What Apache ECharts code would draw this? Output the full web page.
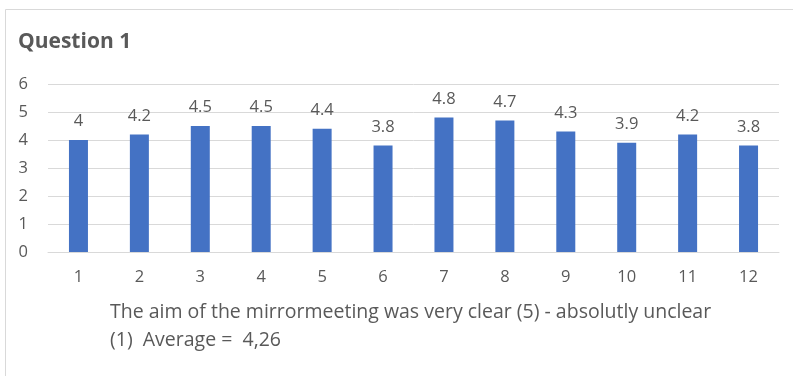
<!DOCTYPE html>
<html>
<head>
<meta charset="utf-8">
<script src="https://cdn.jsdelivr.net/npm/echarts@6/dist/echarts.min.js"></script>
<style>
  html, body { margin: 0; padding: 0; background: #fff; }
  #chart { width: 793px; height: 376px; }
</style>
</head>
<body>
<div id="chart"></div>
<script>
// Survey question: one bar per respondent group
const categories = ['1', '2', '3', '4', '5', '6', '7', '8', '9', '10', '11', '12'];
const scores = [4, 4.2, 4.5, 4.5, 4.4, 3.8, 4.8, 4.7, 4.3, 3.9, 4.2, 3.8];
const yTicks = { min: 0, max: 6, interval: 1 };
const titleText = 'Question 1';
const axisTitleLines = [
  'The aim of the mirrormeeting was very clear (5) - absolutly unclear',
  '(1)  Average =  4,26'
];

const textColor = '#595959';
const fontFamily = '"Open Sans", "Noto Sans", sans-serif';

const chart = echarts.init(document.getElementById('chart'), null, { renderer: 'canvas' });

chart.setOption({
  animation: false,
  backgroundColor: '#ffffff',
  textStyle: { fontFamily: fontFamily },
  title: {
    text: titleText,
    left: 13,
    top: 27,
    textStyle: { color: textColor, fontSize: 21, fontWeight: 'bold', fontFamily: fontFamily }
  },
  graphic: [
    {
      type: 'rect',
      shape: { x: 5.5, y: 9.5, width: 900, height: 500 },
      style: { fill: 'none', stroke: '#d9d9d9', lineWidth: 1 },
      silent: true
    },
    {
      type: 'text',
      left: 110,
      top: 298,
      style: {
        text: axisTitleLines.join('\n'),
        fill: textColor,
        fontSize: 19.5,
        lineHeight: 28,
        fontFamily: fontFamily,
        align: 'left'
      },
      silent: true
    }
  ],
  grid: { left: 48, right: 14, top: 84, bottom: 124, containLabel: false },
  xAxis: {
    type: 'category',
    data: categories,
    axisLine: { show: true, lineStyle: { color: '#d9d9d9', width: 1 } },
    axisTick: { show: false },
    axisLabel: { color: textColor, fontSize: 16.5, margin: 17, fontFamily: fontFamily }
  },
  yAxis: {
    type: 'value',
    min: yTicks.min,
    max: yTicks.max,
    interval: yTicks.interval,
    axisLine: { show: false },
    axisTick: { show: false },
    splitLine: { lineStyle: { color: '#d9d9d9', width: 1 } },
    axisLabel: { color: textColor, fontSize: 16.5, margin: 20, fontFamily: fontFamily }
  },
  series: [{
    type: 'bar',
    data: scores,
    barWidth: 19,
    itemStyle: { color: '#4472c4' },
    label: {
      show: true,
      position: 'top',
      distance: 10,
      color: textColor,
      fontSize: 16.5,
      fontFamily: fontFamily
    }
  }]
});
</script>
</body>
</html>
